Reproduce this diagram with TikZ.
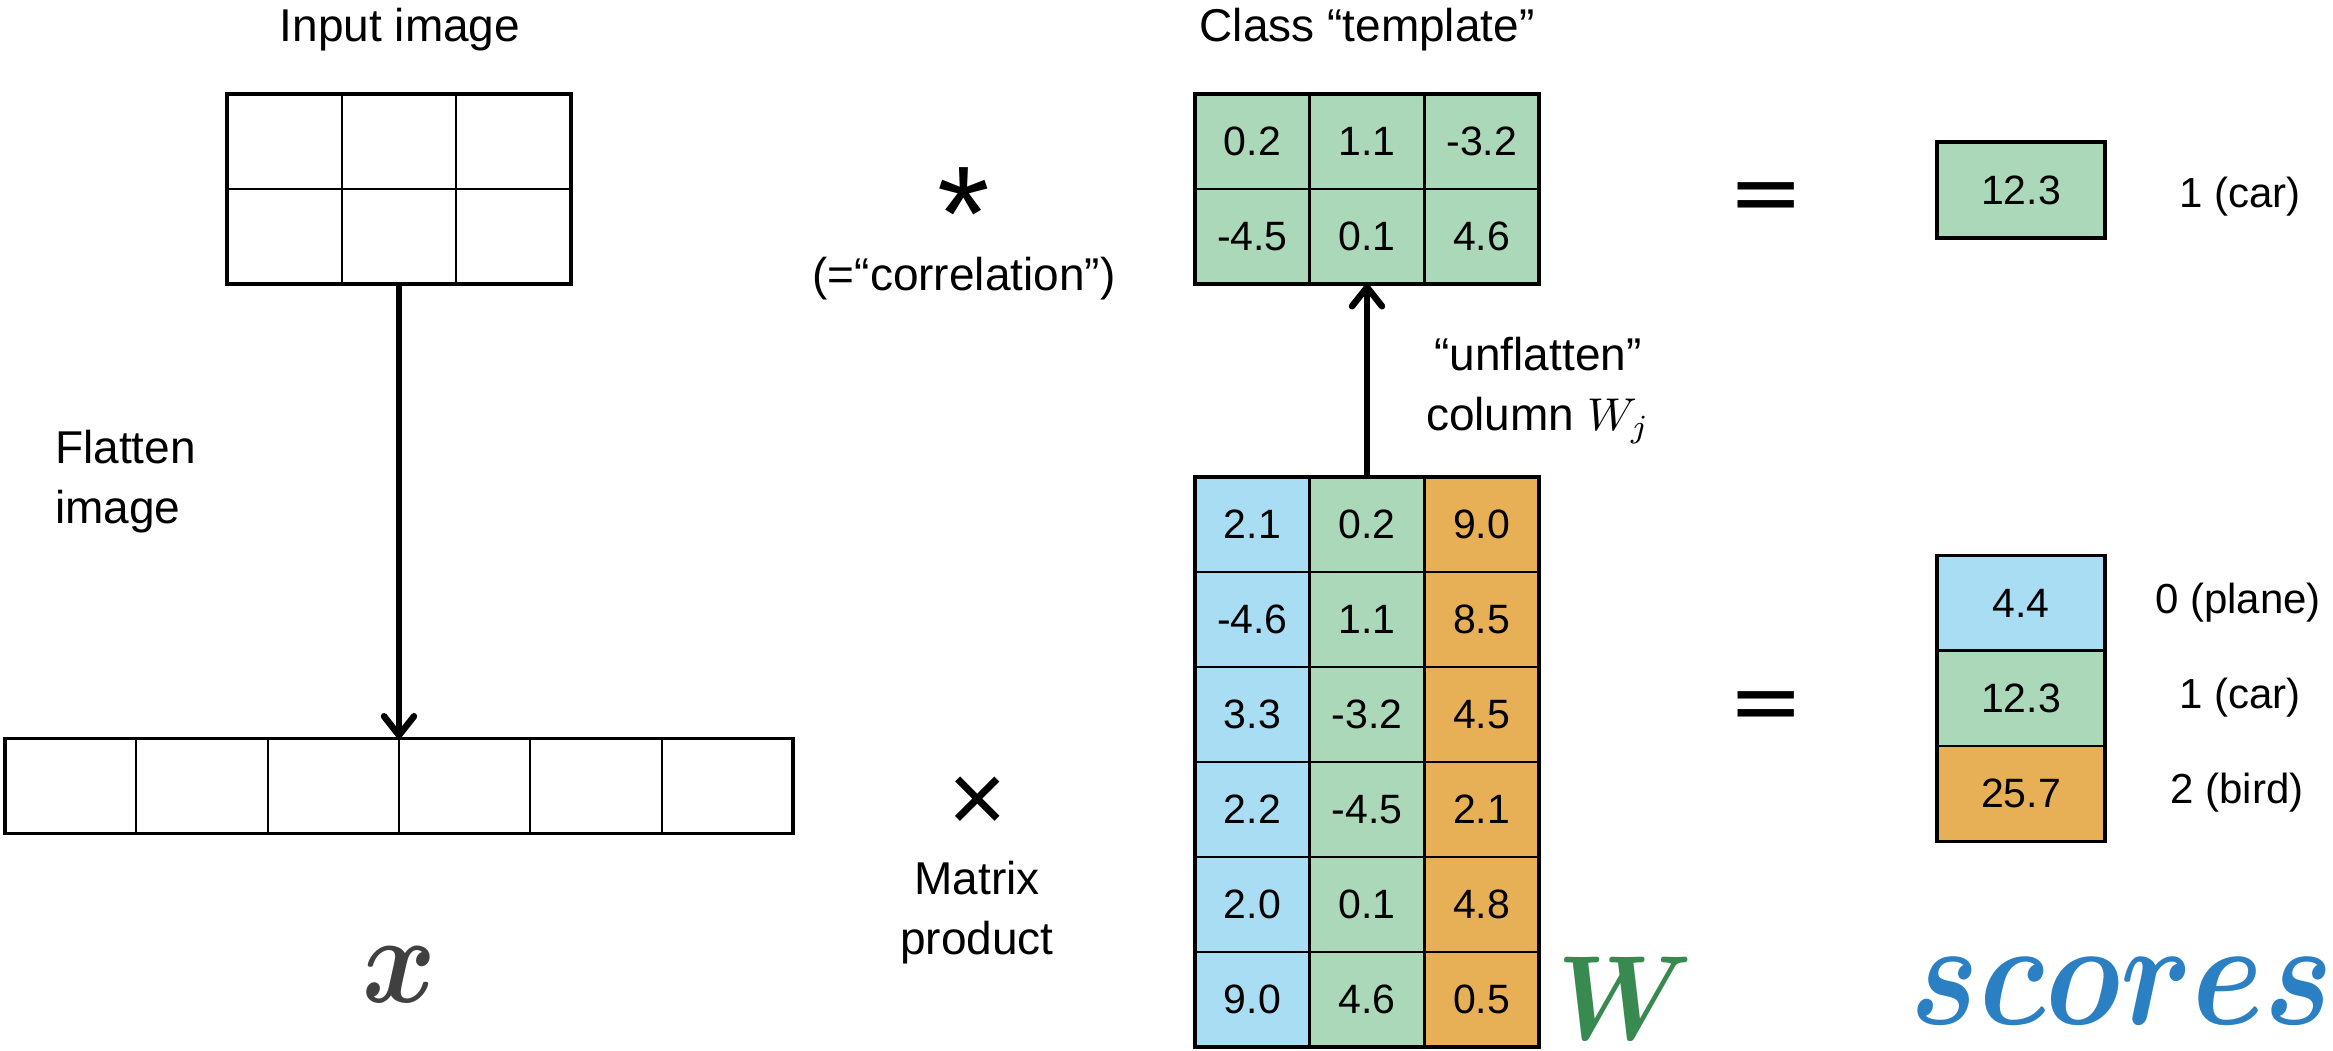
\documentclass[tikz,border=0pt]{standalone}
\usepackage{fontspec}
\setmainfont{Liberation Sans}
\newfontfamily\symfont{DejaVu Sans}
\usepackage{bm}
\usetikzlibrary{arrows.meta}
\definecolor{cblue}{HTML}{A8DDF4}
\definecolor{cgreen}{HTML}{AAD8B9}
\definecolor{corange}{HTML}{E8B056}
\definecolor{wgreen}{HTML}{398A50}
\definecolor{sblue}{HTML}{2B80C4}
\definecolor{xgray}{HTML}{404040}
\newcommand{\bigmath}[3]{\scalebox{#1}[#2]{\fontsize{10}{12}\selectfont$#3$}}
\begin{document}
\begin{tikzpicture}[x=1pt,y=-1pt,
 cell/.style={draw=black,line width=2.5pt,minimum width=114.67pt,minimum height=95pt,inner sep=0pt,outer sep=0pt,font=\fontsize{41}{49}\selectfont},
 frame/.style={draw=black,line width=3.5pt,inner sep=0pt,outer sep=0pt},
 lbl/.style={font=\fontsize{46}{60}\selectfont,inner sep=0pt},
 clslbl/.style={font=\fontsize{42}{50}\selectfont,inner sep=0pt},
 opsym/.style={inner sep=0pt,anchor=north},
 arr/.style={line width=6.5pt,-{Straight Barb[length=19pt,width=30pt,round]}},
]
\useasboundingbox (0,0) rectangle (2333,1050);

% input image grid
\foreach \r in {0,1}{\foreach \j in {0,1,2}{
  \node[cell,line width=2pt] (in-\r-\j) at ({284.33+114.67*\j},{141.5+95*\r}) {};}}
\node[frame,minimum width=344pt,minimum height=190pt] (ingrid) at (399,189) {};

% flattened row
\foreach \j in {0,...,5}{
  \node[cell,line width=2pt,minimum width=131.33pt] (fl-\j) at ({70.67+131.33*\j},786) {};}
\node[frame,minimum width=788pt,minimum height=95pt] (flat) at (399,786) {};

% class template
\foreach \r/\j/\v in {0/0/0.2,0/1/1.1,0/2/-3.2,1/0/-4.5,1/1/0.1,1/2/4.6}{
  \node[cell,fill=cgreen] (tp-\r-\j) at ({1252.33+114.67*\j},{141.5+95*\r}) {\v};}
\node[frame,minimum width=344pt,minimum height=190pt] (tmpl) at (1367,189) {};

% W matrix
\foreach \r/\a/\b/\cc in {0/2.1/0.2/9.0,1/-4.6/1.1/8.5,2/3.3/-3.2/4.5,3/2.2/-4.5/2.1,4/2.0/0.1/4.8,5/9.0/4.6/0.5}{
  \node[cell,fill=cblue] (W-\r-0) at (1252.33,{524.5+95*\r}) {\a};
  \node[cell,fill=cgreen] (W-\r-1) at (1367,{524.5+95*\r}) {\b};
  \node[cell,fill=corange] (W-\r-2) at (1481.67,{524.5+95*\r}) {\cc};}
\node[frame,minimum width=344pt,minimum height=570pt] (Wmat) at (1367,762) {};

% scores
\node[cell,fill=cblue,minimum width=168pt,minimum height=95.33pt] (s-0) at (2021,603) {4.4};
\node[cell,fill=cgreen,minimum width=168pt,minimum height=95.33pt] (s-1) at (2021,698.33) {12.3};
\node[cell,fill=corange,minimum width=168pt,minimum height=95.33pt] (s-2) at (2021,793.67) {25.7};
\node[frame,minimum width=168pt,minimum height=286pt] (scbox) at (2021,698.33) {};

% single score
\node[cell,fill=cgreen,line width=3.5pt,minimum width=168pt,minimum height=96pt] (car) at (2021,190) {12.3};

% arrows
\draw[arr] (ingrid.south) -- (flat.north);
\draw[arr] (W-0-1.north) -- (tmpl.south);

% labels
\node[lbl,anchor=base] (t-input) at (400,41) {Input image};
\node[lbl,anchor=base] (t-class) at (1367,41) {Class “template”};
\node[opsym,font=\fontsize{135}{135}\selectfont] (op-star) at (964,163) {\raisebox{-0.44em}[0.28em][0pt]{*}};
\node[lbl,anchor=base] (t-corr) at (964,290) {(=“correlation”)};
\node[lbl,anchor=north west,align=left] (t-flat) at (55,430) {Flatten\\image};
\node[lbl,anchor=north,align=center] (t-unfl) at (1538,337) {“unflatten”\\column \bigmath{4.6}{4.6}{W_j}};
\node[opsym,font=\fontsize{100}{100}\selectfont] (op-times) at (978,777) {×};
\node[lbl,anchor=north,align=center] (t-mat) at (977,861) {Matrix\\product};
\node[opsym,font=\fontsize{90}{90}\symfont] (eq-1) at (1766,182) {=};
\node[opsym,font=\fontsize{90}{90}\symfont] (eq-2) at (1766,691) {=};

\node[clslbl] (c-top) at (2240,197) {1 (car)};
\node[clslbl] (c-0) at (2238,603) {0 (plane)};
\node[clslbl] (c-1) at (2240,698) {1 (car)};
\node[clslbl] (c-2) at (2237,793) {2 (bird)};

% big math symbols
\node[inner sep=0pt,text=xgray] (sym-x) at (399,975) {\bigmath{11.2}{12.5}{\bm{x}}};
\node[inner sep=0pt,text=wgreen] (sym-W) at (1625,998) {\bigmath{10.8}{12}{\bm{W}}};
\node[inner sep=0pt,text=sblue] (sym-s) at (2122,991) {\bigmath{12.9}{15}{\bm{scores}}};
\end{tikzpicture}
\end{document}
